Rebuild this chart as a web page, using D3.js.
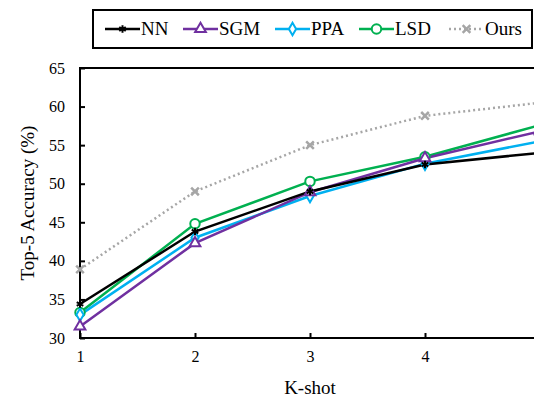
<!DOCTYPE html>
<html>
<head>
<meta charset="utf-8">
<script src="https://cdn.jsdelivr.net/npm/d3@7"></script>
<style>
  body { margin: 0; background: #fff; }
  svg, svg text { font-family: "Liberation Serif", "DejaVu Serif", serif !important; }
</style>
</head>
<body>
<div id="chart"></div>
<script>
var shots = [1, 2, 3, 4, 5];
var nnVals = [34.4, 43.8, 49.0, 52.5, 54.0];
var sgmVals = [31.5, 42.3, 48.9, 53.3, 56.8];
var ppaVals = [33.0, 43.0, 48.4, 52.6, 55.5];
var lsdVals = [33.3, 44.8, 50.3, 53.5, 57.6];
var oursVals = [38.9, 49.0, 55.0, 58.8, 60.5];
var xTicks = [1, 2, 3, 4];
var yTicks = [30, 35, 40, 45, 50, 55, 60, 65];

var series = [
  {name: "NN", values: nnVals, color: "#000000", marker: "star", dash: null},
  {name: "SGM", values: sgmVals, color: "#7030A0", marker: "triangle", dash: null},
  {name: "PPA", values: ppaVals, color: "#00B0F0", marker: "diamond", dash: null},
  {name: "LSD", values: lsdVals, color: "#00B050", marker: "circle", dash: null},
  {name: "Ours", values: oursVals, color: "#A6A6A6", marker: "cross", dash: "2,3"}
];

var width = 534, height = 402;
var margin = {top: 68, left: 80, bottom: 64};
var svg = d3.select("#chart").append("svg")
  .attr("width", width)
  .attr("height", height);

var x = d3.scaleLinear().domain([1, 5]).range([margin.left, 540]);
var y = d3.scaleLinear().domain([30, 65]).range([height - margin.bottom, margin.top]);

// frame
svg.append("rect")
  .attr("x", x(1)).attr("y", y(65))
  .attr("width", x(5) - x(1)).attr("height", y(30) - y(65))
  .attr("fill", "none").attr("stroke", "#000").attr("stroke-width", 2);

// axes with inward ticks
var yAxis = svg.append("g")
  .attr("transform", "translate(" + x(1) + ",0)")
  .call(d3.axisLeft(y).tickValues(yTicks).tickFormat(d3.format("d"))
    .tickSizeInner(-5).tickSizeOuter(0).tickPadding(15));
var xAxis = svg.append("g")
  .attr("transform", "translate(0," + y(30) + ")")
  .call(d3.axisBottom(x).tickValues(xTicks).tickFormat(d3.format("d"))
    .tickSizeInner(-5).tickSizeOuter(0).tickPadding(13));
[xAxis, yAxis].forEach(function(a) {
  a.attr("font-family", null);
  a.select(".domain").remove();
  a.selectAll(".tick line").attr("stroke", "#000").attr("stroke-width", 2);
  a.selectAll(".tick text").attr("font-size", 16).attr("fill", "#000");
});

// axis titles
svg.append("text")
  .attr("x", 310).attr("y", 394)
  .attr("text-anchor", "middle")
  .attr("font-size", 19)
  .text("K-shot");
svg.append("text")
  .attr("transform", "translate(34," + 203 + ") rotate(-90)")
  .attr("text-anchor", "middle")
  .attr("font-size", 19)
  .text("Top-5 Accuracy (%)");

var symbols = {
  star: d3.symbol().type(d3.symbolAsterisk).size(40),
  triangle: d3.symbol().type(d3.symbolTriangle).size(50),
  diamond: d3.symbol().type(d3.symbolDiamond).size(45),
  circle: d3.symbol().type(d3.symbolCircle).size(70),
  cross: d3.symbol().type(d3.symbolX).size(40)
};

function drawMarker(g, s, cx, cy) {
  var filled = s.marker === "star" || s.marker === "cross";
  g.append("path")
    .attr("d", symbols[s.marker]())
    .attr("transform", "translate(" + cx + "," + cy + ")")
    .attr("fill", filled ? s.color : "#fff")
    .attr("stroke", s.color)
    .attr("stroke-width", s.marker === "cross" ? 2.5 : 2);
}

var line = d3.line()
  .x(function(d, i) { return x(shots[i]); })
  .y(function(d) { return y(d); });

var plot = svg.append("g");
series.slice().reverse().forEach(function(s) {
  plot.append("path")
    .datum(s.values)
    .attr("d", line)
    .attr("fill", "none")
    .attr("stroke", s.color)
    .attr("stroke-width", 2.5)
    .attr("stroke-dasharray", s.dash);
});
series.slice().reverse().forEach(function(s) {
  s.values.forEach(function(v, i) {
    drawMarker(plot, s, x(shots[i]), y(v));
  });
});

// legend
var legend = svg.append("g");
legend.append("rect")
  .attr("x", 93).attr("y", 10).attr("width", 439).attr("height", 38)
  .attr("fill", "#fff").attr("stroke", "#000").attr("stroke-width", 2);
var legendX = [105, 183, 275, 359, 449];
series.forEach(function(s, i) {
  var lx = legendX[i], ly = 29;
  legend.append("line")
    .attr("x1", lx).attr("x2", lx + 35).attr("y1", ly).attr("y2", ly)
    .attr("stroke", s.color).attr("stroke-width", 2.5)
    .attr("stroke-dasharray", s.dash);
  drawMarker(legend, s, lx + 17.5, ly);
  legend.append("text")
    .attr("x", lx + 36).attr("y", ly + 6)
    .attr("font-size", 19)
    .text(s.name);
});
</script>
</body>
</html>
